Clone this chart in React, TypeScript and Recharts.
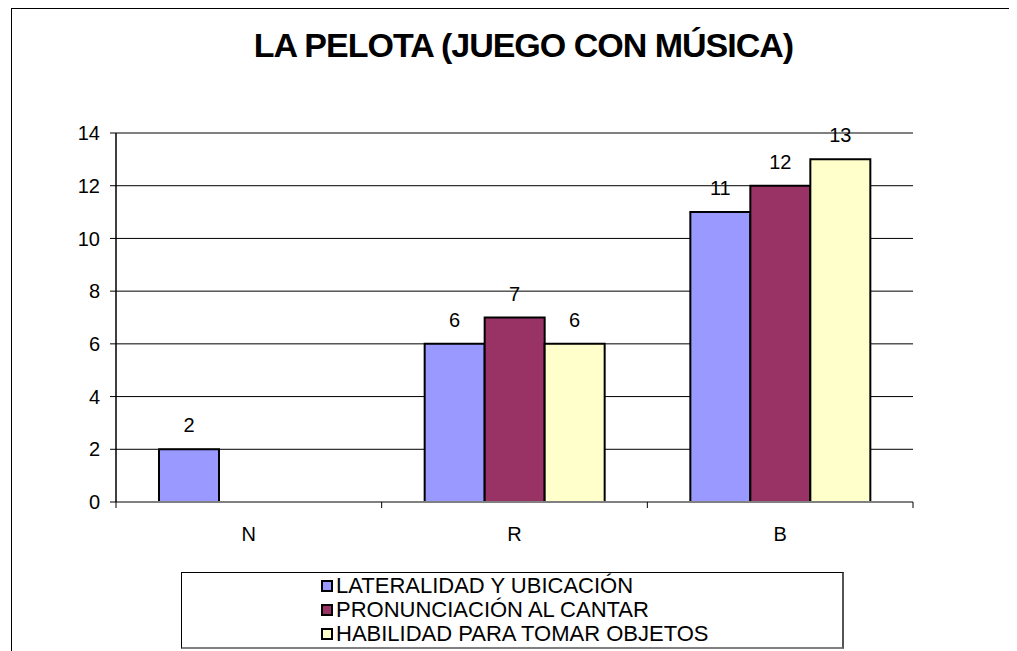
import { BarChart, Bar, XAxis, YAxis, CartesianGrid, LabelList, Legend, ReferenceLine } from 'recharts'

const title = 'LA PELOTA (JUEGO CON MÚSICA)'
const categories = ['N', 'R', 'B']
const seriesKeys = ['s0', 's1', 's2']
const seriesNames = ['LATERALIDAD Y UBICACIÓN', 'PRONUNCIACIÓN AL CANTAR', 'HABILIDAD PARA TOMAR OBJETOS']
const seriesColors = ['#9999FF', '#993366', '#FFFFCC']
const lateralidad = [2, 6, 11]
const pronunciacion = [null, 7, 12]
const habilidad = [null, 6, 13]
const yTicks = [0, 2, 4, 6, 8, 10, 12, 14]
const gridValues = [2, 4, 6, 8, 10, 12]

const data = categories.map((cat, i) => ({
  cat,
  s0: lateralidad[i],
  s1: pronunciacion[i],
  s2: habilidad[i],
}))

const FONT = '"Liberation Sans", Arial, sans-serif'
const TICK_SIZE = 6
const TICK_MARGIN = 19

// category label at the centre, tick marks on the category boundaries (Excel style)
function CategoryTick(props: any) {
  const { x, y, payload, width, visibleTicksCount, index } = props
  const band = width / visibleTicksCount
  const axisY = y - TICK_SIZE - TICK_MARGIN
  return (
    <g>
      <line x1={x - band / 2} x2={x - band / 2} y1={axisY} y2={axisY + TICK_SIZE} stroke="#000" />
      {index === visibleTicksCount - 1 && (
        <line x1={x + band / 2} x2={x + band / 2} y1={axisY} y2={axisY + TICK_SIZE} stroke="#000" />
      )}
      <text x={x} y={y} dy="0.71em" textAnchor="middle" fontSize={20} fill="#000" fontFamily={FONT}>
        {payload.value}
      </text>
    </g>
  )
}

// legend keeps the series order (recharts sorts by name otherwise)
function LegendBox() {
  return (
    <div
      style={{
        width: 663,
        height: 77,
        boxSizing: 'border-box',
        borderTop: '1px solid #000',
        borderLeft: '1px solid #000',
        borderRight: '2px solid #555',
        borderBottom: '2px solid #808080',
        background: '#fff',
        paddingLeft: 139,
        paddingTop: 1,
        fontFamily: FONT,
        fontSize: 22,
        lineHeight: '24px',
        color: '#000',
        textAlign: 'left',
      }}
    >
      {seriesNames.map((name, i) => (
        <div key={name} style={{ display: 'flex', alignItems: 'center', height: 24 }}>
          <span
            style={{
              width: 12,
              height: 12,
              boxSizing: 'border-box',
              border: '2px solid #000',
              background: seriesColors[i],
              marginRight: 3,
              display: 'inline-block',
            }}
          />
          <span>{name}</span>
        </div>
      ))}
    </div>
  )
}

export default function App() {
  return (
    <div
      style={{
        marginLeft: 3,
        width: 1000,
        height: 700,
        border: '1px solid #000',
        boxSizing: 'border-box',
        position: 'relative',
        fontFamily: FONT,
        background: '#fff',
      }}
    >
      <BarChart
        width={998}
        height={640}
        data={data}
        margin={{ top: 124, right: 97, left: 44, bottom: 107 }}
        barCategoryGap={43}
        barGap={0}
      >
        <CartesianGrid vertical={false} stroke="#000" horizontalValues={gridValues} />
        <XAxis
          dataKey="cat"
          height={40}
          tickSize={TICK_SIZE}
          tickMargin={TICK_MARGIN}
          tickLine={false}
          axisLine={{ stroke: '#808080', strokeWidth: 2 }}
          tick={<CategoryTick />}
          interval={0}
        />
        <YAxis
          width={60}
          domain={[0, 14]}
          ticks={yTicks}
          interval={0}
          tickSize={TICK_SIZE}
          tickMargin={10}
          tickLine={{ stroke: '#000' }}
          axisLine={{ stroke: '#000', strokeWidth: 1.5 }}
          tick={{ fontSize: 20, fill: '#000', fontFamily: FONT }}
        />
        <YAxis
          yAxisId="r"
          orientation="right"
          width={0}
          domain={[0, 14]}
          tick={false}
          tickLine={false}
          axisLine={{ stroke: '#808080', strokeWidth: 2 }}
        />
        <ReferenceLine y={14} stroke="#808080" strokeWidth={2} />
        <Legend
          layout="vertical"
          align="center"
          verticalAlign="middle"
          content={<LegendBox />}
          wrapperStyle={{ position: 'absolute', left: 169, top: 563, width: 663, height: 77 }}
        />
        {seriesKeys.map((key, i) => (
          <Bar
            key={key}
            dataKey={key}
            name={seriesNames[i]}
            fill={seriesColors[i]}
            stroke="#000"
            strokeWidth={2}
            isAnimationActive={false}
          >
            <LabelList dataKey={key} position="top" offset={17} fontSize={20} fill="#000" fontFamily={FONT} />
          </Bar>
        ))}
      </BarChart>
      <div
        style={{
          position: 'absolute',
          left: 0,
          width: 1023,
          top: 19,
          textAlign: 'center',
          fontSize: 34,
          letterSpacing: -1,
          fontWeight: 'bold',
          lineHeight: '34px',
          color: '#000',
        }}
      >
        {title}
      </div>
    </div>
  )
}
